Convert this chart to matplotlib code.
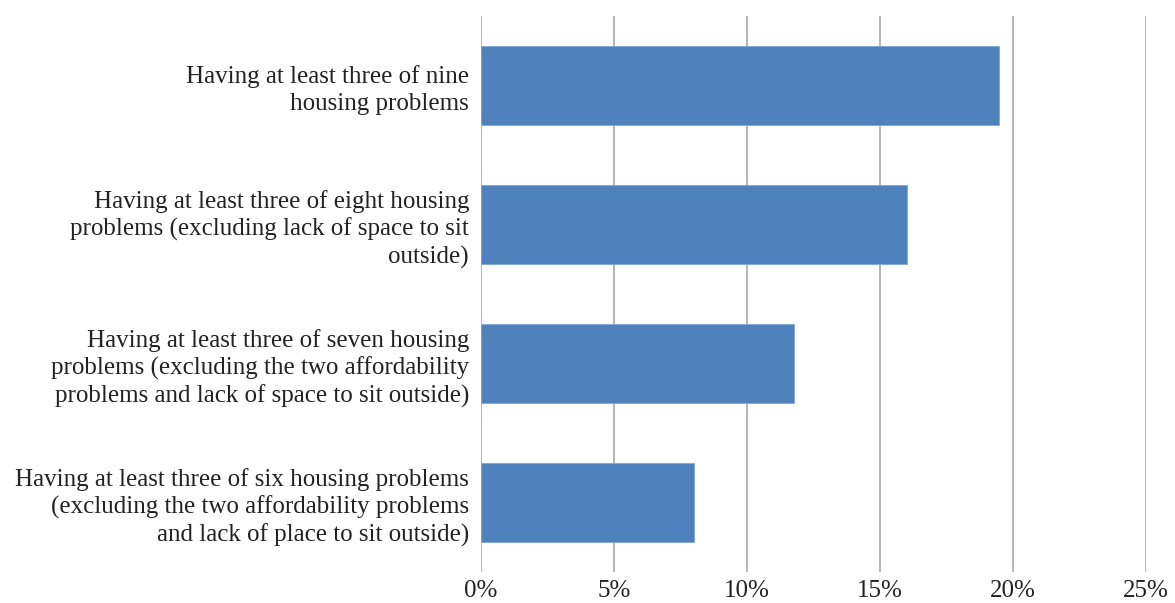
import matplotlib
matplotlib.use('Agg')
import matplotlib.pyplot as plt

labels = [
    'Having at least three of nine\nhousing problems',
    'Having at least three of eight housing\nproblems (excluding lack of space to sit\noutside)',
    'Having at least three of seven housing\nproblems (excluding the two affordability\nproblems and lack of space to sit outside)',
    'Having at least three of six housing problems\n(excluding the two affordability problems\nand lack of place to sit outside)',
]
values = [19.45, 16.0, 11.75, 8.0]
ticks = [0, 5, 10, 15, 20, 25]
tick_labels = ['0%', '5%', '10%', '15%', '20%', '25%']

plt.rcParams['font.family'] = ['Liberation Serif', 'DejaVu Serif']

fig = plt.figure(figsize=(11.75, 6.03), dpi=100)
ax = fig.add_axes([0.4094, 0.0514, 0.5661, 0.9221])

pos = list(range(len(labels)))
ax.barh(pos, values, height=0.57, color='#4f81bd', edgecolor='#7ea6d6', linewidth=0.6, zorder=3)
ax.set_ylim(len(labels) - 0.5, -0.5)
ax.set_xlim(0, 25)
ax.set_xticks(ticks)
ax.set_xticklabels(tick_labels, fontsize=18, color='#222222')
ax.set_yticks(pos)
ax.set_yticklabels(labels, fontsize=18, color='#222222', linespacing=1.25)
ax.tick_params(axis='y', length=0, pad=8.6)
ax.tick_params(axis='x', length=0, pad=6)
for t in ticks:
    ax.axvline(t, color='#a0a0a0', linewidth=1.1, zorder=1)
for s in ax.spines.values():
    s.set_visible(False)

plt.savefig('out.png', dpi=100)
plt.close()
